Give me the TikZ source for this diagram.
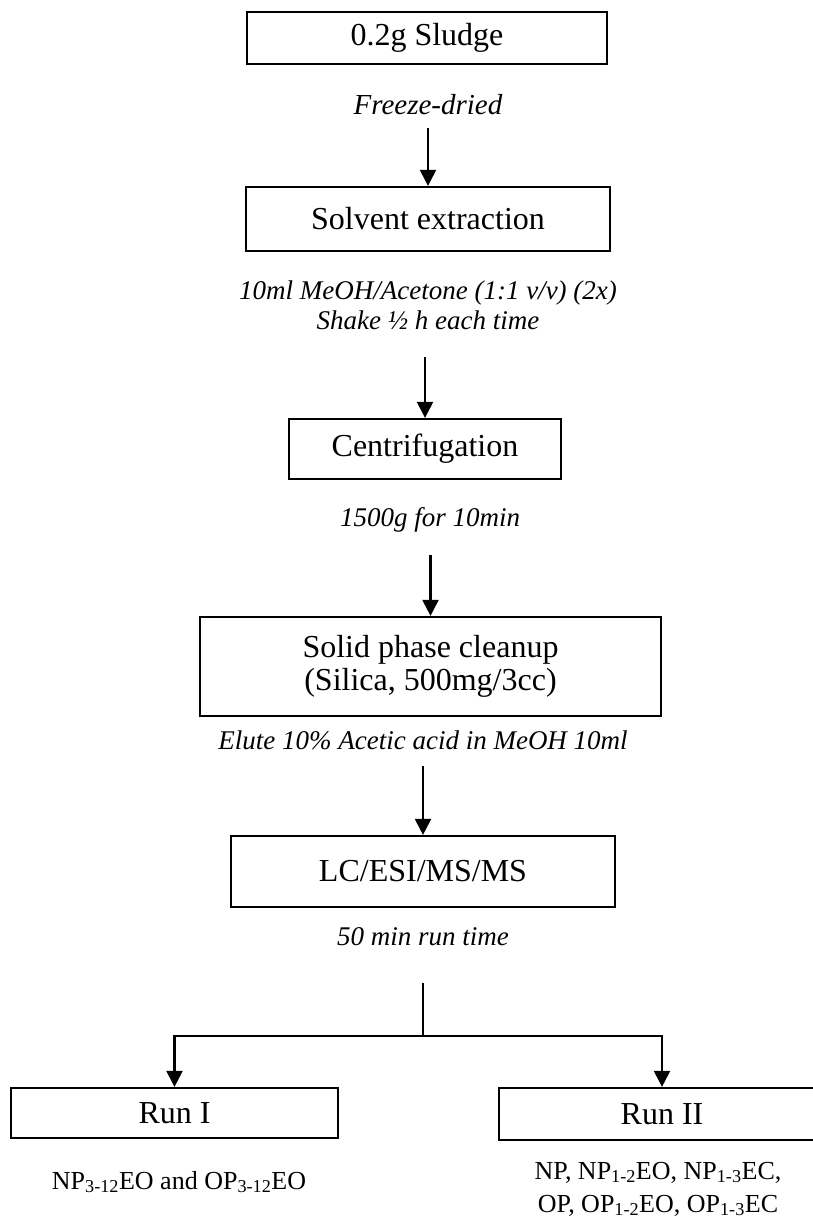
\documentclass[tikz,border=0pt]{standalone}
\usepackage{fontspec}
\setmainfont{Liberation Serif}
\usetikzlibrary{arrows.meta}
\begin{document}
\begin{tikzpicture}[x=1pt,y=-1pt,
  stepbox/.style={draw, line width=2.2pt, rectangle, inner sep=0pt, align=center,
    font=\fontsize{32}{33}\selectfont},
  note/.style={inner sep=0pt, align=center, font=\fontsize{27}{30}\selectfont\itshape},
  result/.style={inner sep=0pt, align=center, font=\fontsize{26}{33}\selectfont},
  flow/.style={line width=2.2pt, -{Triangle[length=16pt,width=16pt]}},
  plain/.style={line width=2.2pt}]
\useasboundingbox (0,0) rectangle (813,1220);
% boxes
\node[stepbox, minimum width=360pt, minimum height=52pt] (sludge) at (427,38) {0.2g Sludge};
\node[stepbox, minimum width=364pt, minimum height=64pt] (solvent) at (428,219) {Solvent extraction};
\node[stepbox, minimum width=272pt, minimum height=60pt] (centri) at (425,449) {Centrifugation};
\node[stepbox, minimum width=461pt, minimum height=99pt] (solid) at (430.5,666.5) {Solid phase cleanup\\(Silica, 500mg/3cc)};
\node[stepbox, minimum width=384pt, minimum height=71pt] (lc) at (423,871.5) {LC/ESI/MS/MS};
\node[stepbox, minimum width=327pt, minimum height=50pt] (run1) at (174.5,1113) {Run I};
\node[stepbox, minimum width=326pt, minimum height=52pt] (run2) at (662,1114) {Run II};
% notes
\node[note, font=\fontsize{29}{30}\selectfont\itshape] (n1) at (428,105) {Freeze-dried};
\node[note] (n2) at (428,305) {10ml MeOH/Acetone (1:1 v/v) (2x)\\Shake ½ h each time};
\node[note] (n3) at (430,520) {1500g for 10min};
\node[note] (n4) at (423,740) {Elute 10\% Acetic acid in MeOH 10ml};
\node[note] (n5) at (423,937) {50 min run time};
\node[result] (r1) at (179,1182) {NP\textsubscript{3-12}EO and OP\textsubscript{3-12}EO};
\node[result] (r2) at (658,1189) {NP, NP\textsubscript{1-2}EO, NP\textsubscript{1-3}EC,\\OP, OP\textsubscript{1-2}EO, OP\textsubscript{1-3}EC};
% arrow starts
\coordinate (a1) at (428,128);
\coordinate (a2) at (425,357);
\coordinate (a3) at (430.5,555);
\coordinate (a4) at (423,766);
\coordinate (b0) at (423,983);
\coordinate (j) at (423,1036);
% connectors
\draw[flow] (a1) -- (solvent.north);
\draw[flow] (a2) -- (centri.north);
\draw[flow] (a3) -- (solid.north);
\draw[flow] (a4) -- (lc.north);
\draw[plain] (b0) -- (j);
\draw[flow] (j) -| (run1.north);
\draw[flow] (j) -| (run2.north);
\end{tikzpicture}
\end{document}
